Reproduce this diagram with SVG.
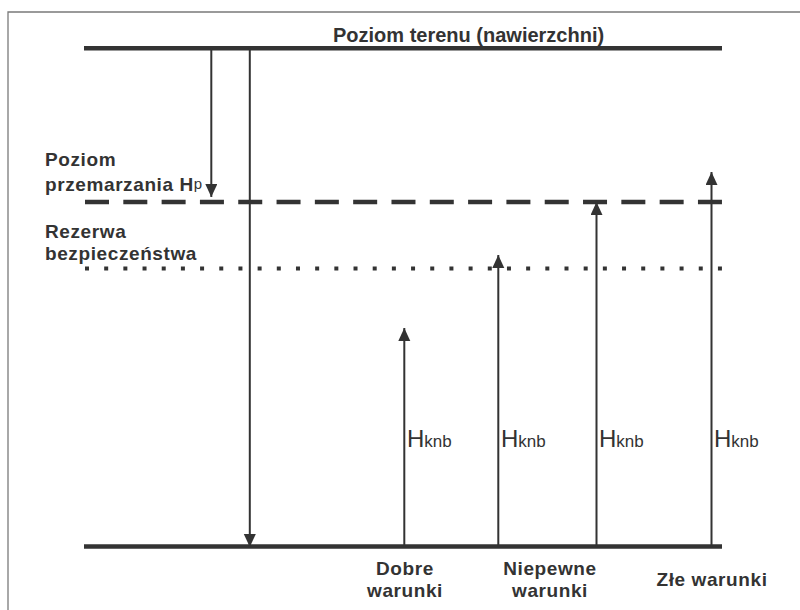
<svg xmlns="http://www.w3.org/2000/svg" width="800" height="610" viewBox="0 0 800 610">
<defs>
<style>
.frame{fill:none;stroke:#7a7a7a;stroke-width:1.3}
.level{stroke:#333;stroke-width:4.5;fill:none}
.dash{stroke:#333;stroke-width:4.5;stroke-dasharray:24 14.31;fill:none}
.dot{stroke:#333;stroke-width:4;stroke-dasharray:4 15.18;fill:none}
.arr{stroke:#333;stroke-width:2;fill:none}
.bold{font-family:"Liberation Sans",Arial,sans-serif;font-weight:bold;fill:#333}
.lbl{font-size:19px;letter-spacing:0.6px}
.title{font-size:20px}
.h{font-family:"Liberation Sans",Arial,sans-serif;fill:#333;font-size:24px}
.sub{font-size:17px}
</style>
<marker id="ah" markerUnits="userSpaceOnUse" markerWidth="12" markerHeight="13" viewBox="0 0 12 13" refX="13" refY="6" orient="auto">
<path d="M0,0 L13,6 L0,12 Z" fill="#333"/>
</marker>
</defs>
<rect width="800" height="610" fill="#fff"/>
<path class="frame" d="M8,612 V12 H802"/>
<g id="levels">
<g id="ground"><line class="level" x1="84" y1="48.3" x2="722" y2="48.3"/><text class="bold title" x="333" y="42">Poziom terenu (nawierzchni)</text></g>
<g id="frost"><line class="dash" x1="85" y1="202" x2="722" y2="202"/><text class="bold lbl" x="45" y="166">Poziom</text><text class="bold lbl" x="45" y="191">przemarzania H<tspan font-weight="normal" font-size="15" letter-spacing="0" dy="-2">p</tspan></text></g>
<g id="reserve"><line class="dot" x1="85" y1="268.5" x2="722" y2="268.5"/><text class="bold lbl" x="45" y="238">Rezerwa</text><text class="bold lbl" x="45" y="260">bezpieczeństwa</text></g>
<g id="base"><line class="level" x1="84" y1="546.5" x2="722" y2="546.5"/></g>
</g>
<g id="connectors">
<line class="arr" x1="211.3" y1="48" x2="211.3" y2="197" marker-end="url(#ah)"/>
<line class="arr" x1="249.8" y1="48" x2="249.8" y2="547" marker-end="url(#ah)"/>
<line class="arr" x1="404.3" y1="547" x2="404.3" y2="328" marker-end="url(#ah)"/>
<line class="arr" x1="498.3" y1="547" x2="498.3" y2="255" marker-end="url(#ah)"/>
<line class="arr" x1="596.5" y1="547" x2="596.5" y2="202" marker-end="url(#ah)"/>
<line class="arr" x1="711.5" y1="547" x2="711.5" y2="172" marker-end="url(#ah)"/>
</g>
<g id="hknb-labels">
<text class="h" x="407" y="447">H<tspan class="sub">knb</tspan></text>
<text class="h" x="501" y="447">H<tspan class="sub">knb</tspan></text>
<text class="h" x="599" y="447">H<tspan class="sub">knb</tspan></text>
<text class="h" x="714" y="447">H<tspan class="sub">knb</tspan></text>
</g>
<g id="good"><text class="bold lbl" text-anchor="middle" x="405" y="575">Dobre</text><text class="bold lbl" text-anchor="middle" x="405" y="597">warunki</text></g>
<g id="uncertain"><text class="bold lbl" text-anchor="middle" x="550" y="575">Niepewne</text><text class="bold lbl" text-anchor="middle" x="550" y="597">warunki</text></g>
<g id="bad"><text class="bold lbl" text-anchor="middle" x="712" y="586">Złe warunki</text></g>
</svg>
